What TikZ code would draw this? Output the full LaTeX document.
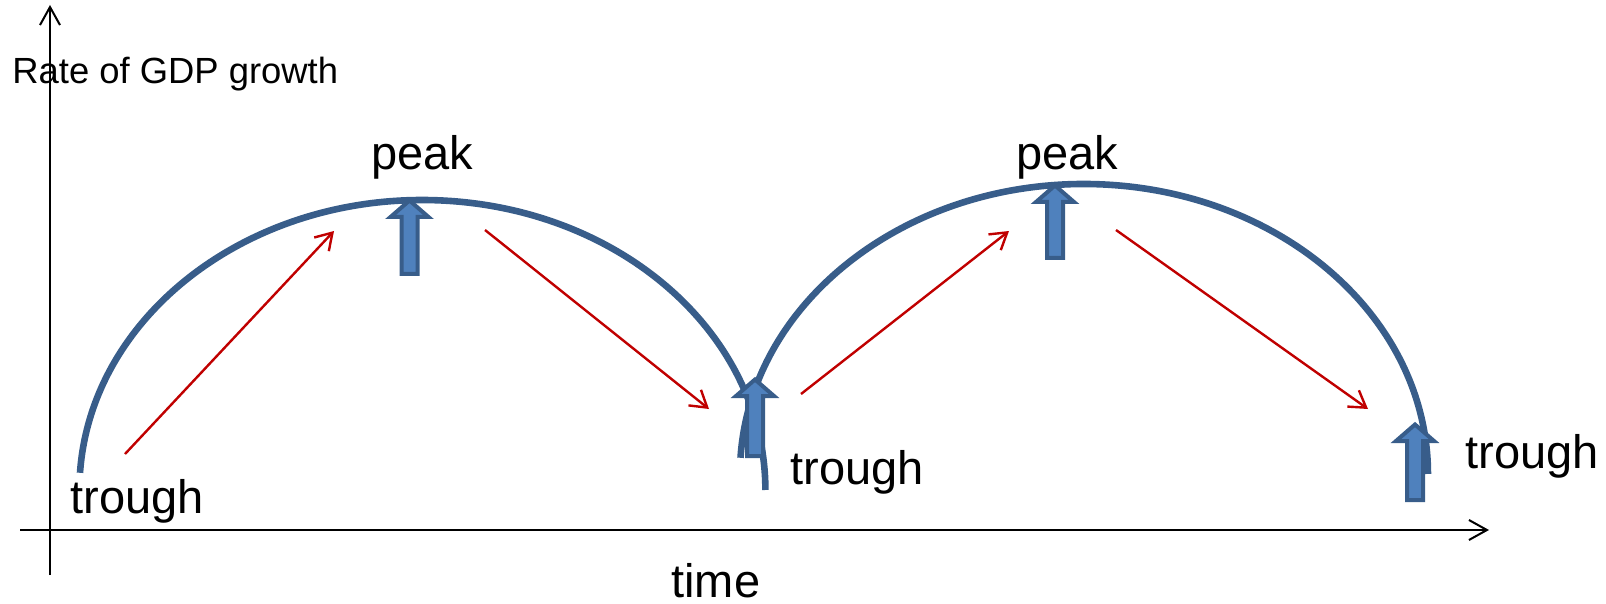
\documentclass[tikz,border=0pt]{standalone}
\usepackage{fontspec}
\setmainfont{Liberation Sans}
\usetikzlibrary{arrows.meta}
\definecolor{arcblue}{RGB}{56,93,138}
\definecolor{fillblue}{RGB}{79,129,189}
\definecolor{redarr}{RGB}{192,0,0}
\newcommand\blockup[3]{% x, tip y, bottom y
  \draw[blockarrow] (#1,#2+2.5) -- (#1+19,#2+19) -- (#1+8,#2+19) -- (#1+8,#3-2) -- (#1-8,#3-2) -- (#1-8,#2+19) -- (#1-19,#2+19) -- cycle;
}
\begin{document}
\begin{tikzpicture}[x=0.5pt,y=-0.5pt,
  axisline/.style={line width=1pt, -{Straight Barb[length=9pt,width=10pt]}},
  redline/.style={redarr, line width=1.2pt, -{Straight Barb[length=8pt,width=10pt]}},
  cycleline/.style={arcblue, line width=3.3pt},
  blockarrow/.style={draw=arcblue, fill=fillblue, line width=2pt, line join=miter},
  biglbl/.style={font=\fontsize{23.5pt}{28pt}\selectfont, inner sep=0pt, anchor=base west},
  axlbl/.style={font=\fontsize{18.2pt}{22pt}\selectfont, inner sep=0pt, anchor=base west}
]
\useasboundingbox (0,0) rectangle (1606,604);
% axes
\coordinate (xs) at (20,530);
\coordinate (xe) at (1489,530);
\coordinate (ys) at (50,575);
\coordinate (ye) at (50,5);
\draw[axisline] (xs) -- (xe);
\draw[axisline] (ys) -- (ye);
% cycle arcs
\draw[cycleline] (80,472.8) arc[start angle=183.4, end angle=360, x radius=343, y radius=290];
\draw[cycleline] (740.5,457.8) arc[start angle=183.2, end angle=360, x radius=344, y radius=290];
% block arrows
\blockup{409.5}{198}{276}
\blockup{1055}{183}{260}
\blockup{755}{377}{458}
\blockup{1415}{422}{502}
% red arrows
\coordinate (r1s) at (125,454); \coordinate (r1e) at (334,231);
\coordinate (r2s) at (485,230); \coordinate (r2e) at (709,409);
\coordinate (r3s) at (801,394); \coordinate (r3e) at (1009,231);
\coordinate (r4s) at (1116,230); \coordinate (r4e) at (1368,409);
\draw[redline] (r1s) -- (r1e);
\draw[redline] (r2s) -- (r2e);
\draw[redline] (r3s) -- (r3e);
\draw[redline] (r4s) -- (r4e);
% labels
\node[axlbl] (ylab) at (12,84) {Rate of GDP growth};
\node[biglbl] (xlab) at (671,597) {time};
\node[biglbl] (peak1) at (371,170) {peak};
\node[biglbl] (peak2) at (1016,170) {peak};
\node[biglbl] (tr1) at (70,513) {trough};
\node[biglbl] (tr2) at (790,484) {trough};
\node[biglbl] (tr3) at (1465,468) {trough};
\end{tikzpicture}
\end{document}
